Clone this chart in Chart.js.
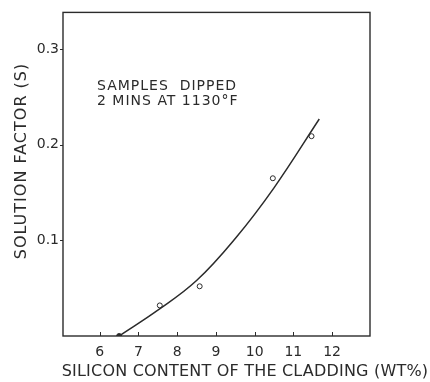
<!DOCTYPE html>
<html>
<head>
<meta charset="utf-8">
<script src="https://cdn.jsdelivr.net/npm/chart.js@4.4.1/dist/chart.umd.min.js"></script>
<style>
  html, body { margin: 0; padding: 0; background: #fff; }
  #wrap { width: 430px; height: 382px; }
</style>
</head>
<body>
<div id="wrap"><canvas id="chart" width="430" height="382"></canvas></div>
<script>
// measured samples (silicon wt%, solution factor)
var sampleX = [6.5, 7.55, 8.58, 10.47, 11.47];
var sampleY = [0, 0.032, 0.052, 0.165, 0.209];

// hand-drawn fit curve
var curveX = [6.5, 7.5, 8.5, 9.5, 10.5, 11.67];
var curveY = [0, 0.027, 0.058, 0.102, 0.155, 0.227];

var xTicks = [6, 7, 8, 9, 10, 11, 12];
var yTicks = [0.1, 0.2, 0.3];

var noteLines = ['SAMPLES  DIPPED', '2 MINS AT 1130°F'];
var xTitle = 'SILICON CONTENT OF THE CLADDING (WT%)';
var yTitle = 'SOLUTION FACTOR (S)';

var ink = '#2b2b2b';
var fontFamily = '"DejaVu Sans", sans-serif';

function toPoints(xs, ys) {
    var pts = [];
    for (var i = 0; i < xs.length; i++) {
        pts.push({x: xs[i], y: ys[i]});
    }
    return pts;
}

var framePlugin = {
    id: 'frame',
    afterDraw: function(chart) {
        var ctx = chart.ctx;
        var area = chart.chartArea;
        var xs = chart.scales.x;
        var ys = chart.scales.y;

        ctx.save();
        ctx.strokeStyle = ink;
        ctx.lineWidth = 1.4;
        ctx.strokeRect(area.left, area.top, area.right - area.left, area.bottom - area.top);

        // x ticks point inward, y ticks outward
        ctx.lineWidth = 1;
        ctx.beginPath();
        xTicks.forEach(function(v) {
            var px = Math.round(xs.getPixelForValue(v)) + 0.5;
            ctx.moveTo(px, area.bottom);
            ctx.lineTo(px, area.bottom - 4);
        });
        yTicks.forEach(function(v) {
            var py = Math.round(ys.getPixelForValue(v)) + 0.5;
            ctx.moveTo(area.left, py);
            ctx.lineTo(area.left - 3, py);
        });
        ctx.stroke();

        ctx.fillStyle = ink;
        ctx.textBaseline = 'alphabetic';

        // note inside the plot
        ctx.font = '14px ' + fontFamily;
        ctx.letterSpacing = '1px';
        ctx.textAlign = 'left';
        ctx.fillText(noteLines[0], 97, 90);
        ctx.fillText(noteLines[1], 97, 105);

        // axis titles
        ctx.font = '16px ' + fontFamily;
        ctx.letterSpacing = '0.2px';
        ctx.textAlign = 'center';
        ctx.fillText(xTitle, 245, 376);

        ctx.letterSpacing = '1px';
        ctx.translate(26, 161);
        ctx.rotate(-Math.PI / 2);
        ctx.fillText(yTitle, 0, 0);
        ctx.restore();
    }
};

new Chart(document.getElementById('chart'), {
    type: 'scatter',
    data: {
        datasets: [{
            type: 'line',
            label: 'fit',
            data: toPoints(curveX, curveY),
            borderColor: ink,
            borderWidth: 1.5,
            pointRadius: 0,
            fill: false,
            tension: 0.4
        }, {
            label: 'samples',
            data: toPoints(sampleX, sampleY),
            pointStyle: 'circle',
            pointRadius: 2.5,
            pointBorderWidth: 1,
            pointBorderColor: ink,
            pointBackgroundColor: function(c) {
                return c.raw && c.raw.y === 0 ? ink : '#fff';
            }
        }]
    },
    options: {
        responsive: false,
        animation: false,
        layout: {padding: {left: 0, right: 60, top: 11, bottom: 0}},
        plugins: {
            legend: {display: false},
            tooltip: {enabled: false}
        },
        scales: {
            x: {
                type: 'linear',
                min: 5.05,
                max: 12.98,
                afterBuildTicks: function(scale) {
                    scale.ticks = xTicks.map(function(v) { return {value: v}; });
                },
                afterFit: function(scale) { scale.height = 46; },
                grid: {display: false, drawTicks: false},
                border: {display: false},
                ticks: {
                    color: ink,
                    padding: 8,
                    maxRotation: 0,
                    font: {family: fontFamily, size: 14}
                }
            },
            y: {
                min: 0,
                max: 0.3385,
                afterBuildTicks: function(scale) {
                    scale.ticks = yTicks.map(function(v) { return {value: v}; });
                },
                afterFit: function(scale) { scale.width = 63; },
                grid: {display: false, drawTicks: false},
                border: {display: false},
                ticks: {
                    color: ink,
                    padding: 4,
                    font: {family: fontFamily, size: 14},
                    callback: function(v) { return v.toFixed(1); }
                }
            }
        }
    },
    plugins: [framePlugin]
});
</script>
</body>
</html>
